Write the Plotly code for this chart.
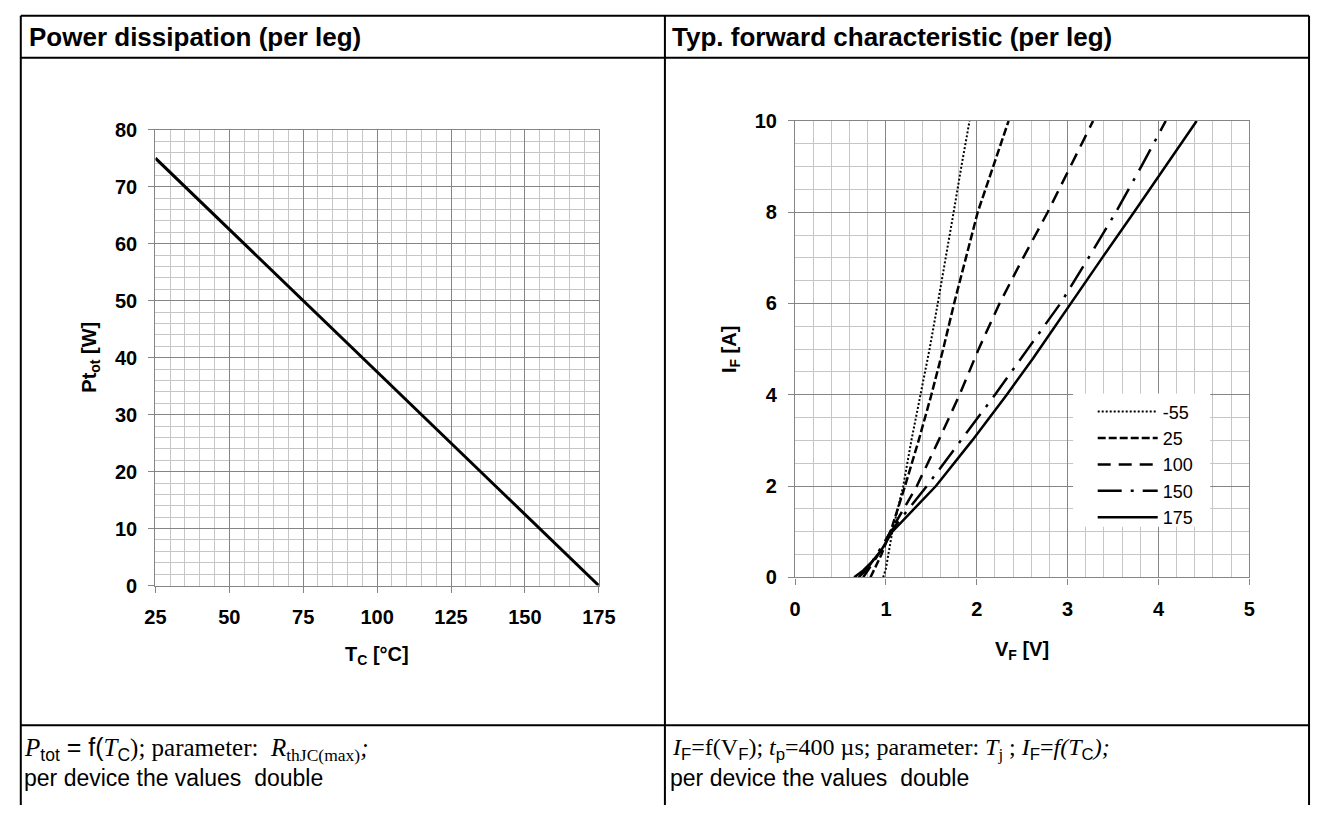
import plotly.graph_objects as go

W, H = 1328, 816

# ---------------- data ----------------
# Power dissipation (per leg)
tc_values = [25, 175]
ptot_values = [75, 0]

# Typical forward characteristic (per leg), one curve per junction temperature
series_names = ["-55", "25", "100", "150", "175"]
vf_m55 = [0.97, 1.00, 1.07, 1.19, 1.28, 1.38, 1.48, 1.57, 1.66, 1.745, 1.83, 1.92]
if_m55 = [0.0, 0.2, 1.0, 2.0, 3.0, 4.0, 5.0, 6.0, 7.0, 8.0, 9.0, 10.0]
vf_25 = [0.83, 0.95, 1.05, 1.21, 1.36, 1.50, 1.63, 1.75, 1.88, 2.01, 2.18, 2.35]
if_25 = [0.0, 0.5, 1.0, 2.0, 3.0, 4.0, 5.0, 6.0, 7.0, 8.0, 9.0, 10.0]
vf_100 = [0.75, 0.85, 0.95, 1.05, 1.34, 1.58, 1.81, 2.02, 2.25, 2.51, 2.78, 3.03, 3.28]
if_100 = [0.0, 0.3, 0.6, 1.0, 2.0, 3.0, 4.0, 5.0, 6.0, 7.0, 8.0, 9.0, 10.0]
vf_150 = [0.70, 0.80, 0.90, 1.05, 1.45, 1.83, 2.20, 2.56, 2.92, 3.23, 3.53, 3.81, 4.08]
if_150 = [0.0, 0.2, 0.5, 1.0, 2.0, 3.0, 4.0, 5.0, 6.0, 7.0, 8.0, 9.0, 10.0]
vf_175 = [0.65, 0.75, 0.85, 0.95, 1.07, 1.55, 1.95, 2.33, 2.62, 3.03, 3.38, 3.73, 4.08, 4.42]
if_175 = [0.0, 0.15, 0.35, 0.6, 1.0, 2.0, 3.0, 4.0, 4.8, 6.0, 7.0, 8.0, 9.0, 10.0]

left_xticks = [25, 50, 75, 100, 125, 150, 175]
left_yticks = [0, 10, 20, 30, 40, 50, 60, 70, 80]
right_xticks = [0, 1, 2, 3, 4, 5]
right_yticks = [0, 2, 4, 6, 8, 10]

# ---------------- helpers ----------------
def px(x):
    return x / W

def py(y):
    return 1 - y / H

BOLDF = "Liberation Sans, Arial, sans-serif"
SANS = "Liberation Sans, Arial, sans-serif"
SERIF = "Liberation Serif, Times New Roman, serif"
MAJOR = "#858585"
MINOR = "#c6c6c6"

fig = go.Figure()

fig.add_trace(go.Scatter(x=tc_values, y=ptot_values, mode="lines",
                         line=dict(color="black", width=3),
                         xaxis="x", yaxis="y", showlegend=False, hoverinfo="skip"))

styles = [
    dict(width=2, dash="2px,2px"),
    dict(width=2.5, dash="8px,3px"),
    dict(width=2.5, dash="13px,8px"),
    dict(width=2.5, dash="24px,9px,3px,9px"),
    dict(width=2.5, dash="solid"),
]
vfs = [vf_m55, vf_25, vf_100, vf_150, vf_175]
ifs = [if_m55, if_25, if_100, if_150, if_175]
for name, vx, iy, st in zip(series_names, vfs, ifs, styles):
    fig.add_trace(go.Scatter(x=vx, y=iy, mode="lines", name=name,
                             line=dict(color="black", width=st["width"], dash=st["dash"]),
                             xaxis="x2", yaxis="y2", hoverinfo="skip"))

tickfont = dict(family=BOLDF, size=20, color="black", weight="bold")

def axis(domain, rng, tickvals, minor_dtick, anchor):
    return dict(domain=domain, range=rng, tickmode="array", tickvals=tickvals,
                showgrid=True, gridcolor=MAJOR, gridwidth=1.4,
                minor=dict(dtick=minor_dtick, tick0=rng[0], showgrid=True,
                           gridcolor=MINOR, gridwidth=1.4, ticks=""),
                showline=True, linecolor=MAJOR, linewidth=1.4, mirror=True,
                ticks="outside", ticklen=6, tickcolor=MAJOR, tickwidth=1.4,
                tickfont=tickfont, zeroline=False, anchor=anchor,
                fixedrange=True)

L = dict(x0=147.5, x1=600.5, y0=122, y1=590.5)
R = dict(x0=801, x1=1265, y0=113, y1=582)

fig.update_layout(
    width=W, height=H, margin=dict(l=0, r=0, t=0, b=0),
    paper_bgcolor="white", plot_bgcolor="white",
    xaxis=axis([px(L["x0"]), px(L["x1"])], [25, 175], left_xticks, 5, "y"),
    yaxis=axis([py(L["y1"]), py(L["y0"])], [0, 80], left_yticks, 2, "x"),
    xaxis2=axis([px(R["x0"]), px(R["x1"])], [0, 5], right_xticks, 0.2, "y2"),
    yaxis2=axis([py(R["y1"]), py(R["y0"])], [0, 10], right_yticks, 0.5, "x2"),
    legend=dict(x=px(1105), y=py(393), xanchor="left", yanchor="top",
                bgcolor="rgba(255,255,255,0)", borderwidth=0,
                font=dict(family=SANS, size=18, color="black"),
                tracegroupgap=0, itemwidth=60,
                ),
    showlegend=True,
)
fig.update_xaxes(ticklabelstandoff=7)
fig.update_yaxes(ticklabelstandoff=7)

# white legend panel covering the grid (no curves pass through this area)
fig.add_shape(type="rect", xref="paper", yref="paper", layer="above",
              x0=px(1085), x1=px(1225), y0=py(530), y1=py(393),
              line=dict(width=0), fillcolor="white")

# ---------------- table frame ----------------
line = dict(color="black", width=2)
for (x0, y0, x1, y1) in [
    (10, 5, 1326, 5),        # top
    (10, 48, 1326, 48),      # under titles
    (10, 734, 1326, 734),    # above captions
    (10, 5, 10, 816),        # left
    (1326, 5, 1326, 816),    # right
    (668, 5, 668, 816),      # middle
]:
    fig.add_shape(type="line", xref="paper", yref="paper",
                  x0=px(x0), y0=py(y0), x1=px(x1), y1=py(y1), line=line)

ann = []
def text(x, y, s, size, family=SANS, xanchor="left", angle=0, weight="normal"):
    ann.append(dict(x=px(x), y=py(y), xref="paper", yref="paper", text=s,
                    showarrow=False, xanchor=xanchor, yanchor="middle",
                    textangle=angle, borderpad=0,
                    font=dict(family=family, size=size, color="black", weight=weight)))

# titles
text(17, 27, "Power dissipation (per leg)", 26, weight="bold")
text(674, 27, "Typ. forward characteristic (per leg)", 26, weight="bold")

# axis titles
text(374, 662, "T<sub>C</sub> [°C]", 20, family=BOLDF, xanchor="center", weight="bold")
text(81, 356, "Pt<sub>ot</sub> [W]", 20, family=BOLDF, xanchor="center", angle=-90, weight="bold")
text(1033, 657, "V<sub>F</sub> [V]", 20, family=BOLDF, xanchor="center", weight="bold")
text(735, 348, "I<sub>F</sub> [A]", 20, family=BOLDF, xanchor="center", angle=-90, weight="bold")

# captions
S = 'font-family:Liberation Sans, Arial'
cap_l = ('<i>P</i><sub><span style="%s">tot</span></sub><span style="%s"> = f(</span><i>T</i>'
         '<sub><span style="%s">C</span></sub>); parameter:  <i>R</i><sub>thJC(max)</sub><i>;</i>') % (S, S, S)
cap_r = ('<i>I</i><sub><span style="%s">F</span></sub>=f(V<sub><span style="%s">F</span></sub>); '
         '<i>t</i><sub><span style="%s">p</span></sub>=400 µs; parameter: <i>T</i><sub>j</sub> ; '
         '<i>I</i><sub><span style="%s">F</span></sub>=<i>f(T</i><sub><span style="%s">C</span></sub><i>);</i>') % (S, S, S, S, S)
text(12, 758, cap_l, 25, family=SERIF)
text(674, 758, cap_r, 24, family=SERIF)
text(12, 788, "per device the values  double", 23)
text(672, 788, "per device the values  double", 23)

fig.update_layout(annotations=ann)
fig.write_html("out.html", config={"displayModeBar": False},
               post_script="document.body.style.margin='0';")
